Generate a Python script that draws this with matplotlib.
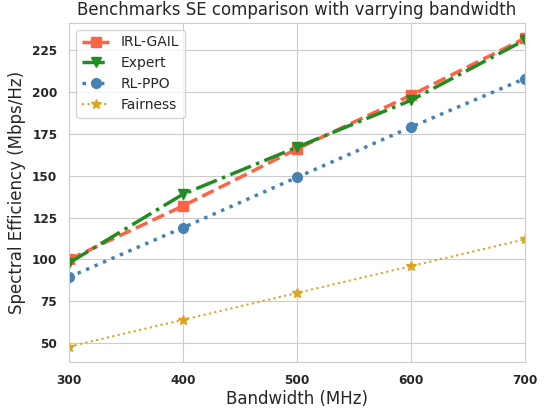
import matplotlib
matplotlib.use("Agg")
import matplotlib.pyplot as plt
import seaborn as sns

# data
bandwidth = [300, 400, 500, 600, 700]
irl_gail = [100, 132, 166, 198, 232]
expert = [98, 139, 167, 195, 231]
rl_ppo = [89.5, 119, 149, 179, 208]
fairness = [48, 64, 80, 96, 112]

sns.set_style("whitegrid")
plt.rcParams["font.family"] = ["DejaVu Sans"]

fig, ax = plt.subplots(figsize=(5.45, 4.09), dpi=100)
fig.subplots_adjust(left=0.127, right=0.963, top=0.944, bottom=0.115)

ax.plot(bandwidth, irl_gail, color="tomato", linestyle="--", linewidth=2.5,
        marker="s", markersize=7, label="IRL-GAIL")
ax.plot(bandwidth, expert, color="forestgreen", linestyle="-.", linewidth=2.5,
        marker="v", markersize=7, label="Expert")
ax.plot(bandwidth, rl_ppo, color="steelblue", linestyle=":", linewidth=2.5,
        marker="o", markersize=7, label="RL-PPO")
ax.plot(bandwidth, fairness, color="goldenrod", linestyle=":", linewidth=1.5,
        marker="*", markersize=7, label="Fairness")

ax.set_xlim(300, 700)
ax.set_xticks(bandwidth)
ax.set_title("Benchmarks SE comparison with varrying bandwidth", fontsize=12)
ax.set_xlabel("Bandwidth (MHz)", fontsize=12, labelpad=2)
ax.set_ylabel("Spectral Efficiency (Mbps/Hz)", fontsize=12)
for lbl in ax.get_xticklabels() + ax.get_yticklabels():
    lbl.set_fontweight("bold")
    lbl.set_fontsize(8.7)
ax.tick_params(axis="x", pad=5)
ax.tick_params(axis="y", pad=5)
ax.legend(loc="upper left", fontsize=10)

fig.savefig("out.png", dpi=100)
